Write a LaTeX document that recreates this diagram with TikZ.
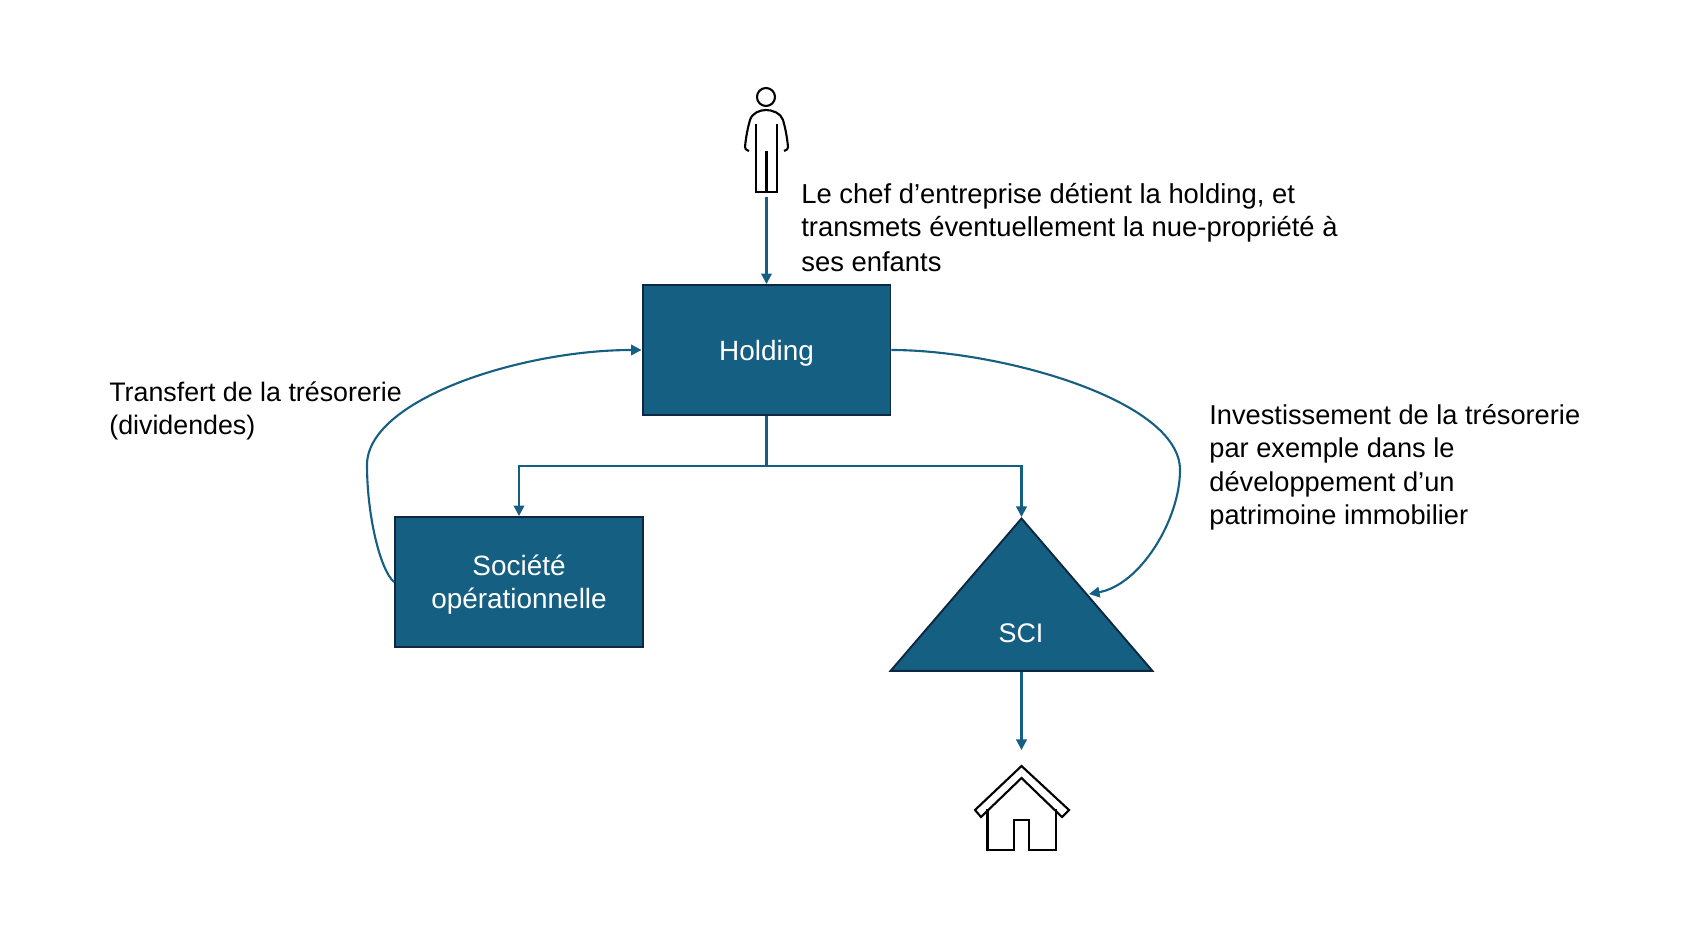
\documentclass[tikz,border=0pt]{standalone}
\usepackage{fontspec}
\setmainfont{Liberation Sans}
\usetikzlibrary{shapes.geometric,arrows.meta}
\definecolor{teal1}{HTML}{156082}
\definecolor{navy1}{HTML}{0E2841}
\newcommand{\lbl}{\fontsize{15.9pt}{19pt}\selectfont}
\newcommand{\lowered}[2]{\raisebox{#1}[\height][\depth]{#2}}
\tikzset{
  box/.style={draw=navy1,line width=1.1pt,fill=teal1,text=white,align=center,inner sep=0pt,font=\lbl},
  link/.style={draw=teal1,line width=1.2pt,-{Triangle[length=6pt,width=6pt]}},
  plain/.style={draw=teal1,line width=1.2pt},
  caption/.style={anchor=north west,align=left,inner sep=0pt,text=black},
  icon/.style={draw=black,line width=1.2pt,line join=miter,fill=none}
}
\begin{document}
\begin{tikzpicture}[x=0.02cm,y=-0.02cm]
\useasboundingbox (0,0) rectangle (1682,942);
\node[box,minimum width=4.96cm,minimum height=2.6cm] (holding) at (766.5,350) {\lowered{-1.8pt}{Holding}};
\node[box,minimum width=4.96cm,minimum height=2.6cm] (soc) at (519,582) {\lowered{-1.5pt}{Société}\\[-0.5pt]\lowered{-1.5pt}{opérationnelle}};
\node[draw=navy1,line width=1.1pt,fill=teal1,isosceles triangle,isosceles triangle apex angle=81,isosceles triangle stretches,shape border rotate=90,minimum width=5.24cm,minimum height=3.05cm,inner sep=0pt,anchor=apex] (sci) at (1021.5,517) {};
\node[text=white,font=\fontsize{15.3pt}{19pt}\selectfont,inner sep=0pt] (scitxt) at (1021,633) {SCI};
% person
\coordinate (personfoot) at (766.5,197);
\draw[icon] (766,97) circle (9);
\draw[icon] (756,124) -- (756,192) -- (777,192) -- (777,124);
\draw[icon] (766.5,151) -- (766.5,192);
\draw[icon] (749,151) .. controls (746,150) and (745,149) .. (745,147) .. controls (746,136) and (748,127) .. (750,120) .. controls (752,113) and (760,110) .. (766,110) .. controls (772,110) and (781,113) .. (783,120) .. controls (785,127) and (787,136) .. (788,147) .. controls (788,149) and (787,150) .. (784,151);
% house
\coordinate (housetop) at (1021.5,750);
\draw[icon] (1021.5,766) -- (975,810) -- (981,817) -- (1021.5,778) -- (1062,817) -- (1069,810) -- cycle;
\draw[icon] (987.5,809) -- (987.5,850) -- (1014,850) -- (1014,820) -- (1029,820) -- (1029,850) -- (1056,850) -- (1056,809);
% connectors
\coordinate (bus) at (766.5,466);
\draw[link] (personfoot) -- (holding.north);
\draw[plain] (holding.south) -- (bus);
\draw[link] (bus) -| (soc.north);
\draw[link] (bus) -| (sci.apex);
\draw[link] (1021.5,671.5) -- (housetop);
\coordinate (sciside) at (1089,594);
\draw[link] (holding.east) .. controls (1000,350) and (1180,400) .. (1180,470) .. controls (1180,520) and (1140,585) .. (sciside);
\draw[link] (soc.west) .. controls (380,570) and (367,515) .. (367,465) .. controls (367,400) and (520,350) .. (holding.west);
% captions
\node[caption,font=\fontsize{15.6pt}{19pt}\selectfont] (c1) at (801,183) {Le chef d’entreprise détient la holding, et\\transmets éventuellement la nue-propriété à\\[0.8pt]ses enfants};
\node[caption,font=\fontsize{15.25pt}{19pt}\selectfont] (c2) at (109,381) {Transfert de la trésorerie\\(dividendes)};
\node[caption,font=\fontsize{15.5pt}{19pt}\selectfont] (c3) at (1209,404) {Investissement de la trésorerie\\par exemple dans le\\développement d’un\\patrimoine immobilier};
\end{tikzpicture}
\end{document}
